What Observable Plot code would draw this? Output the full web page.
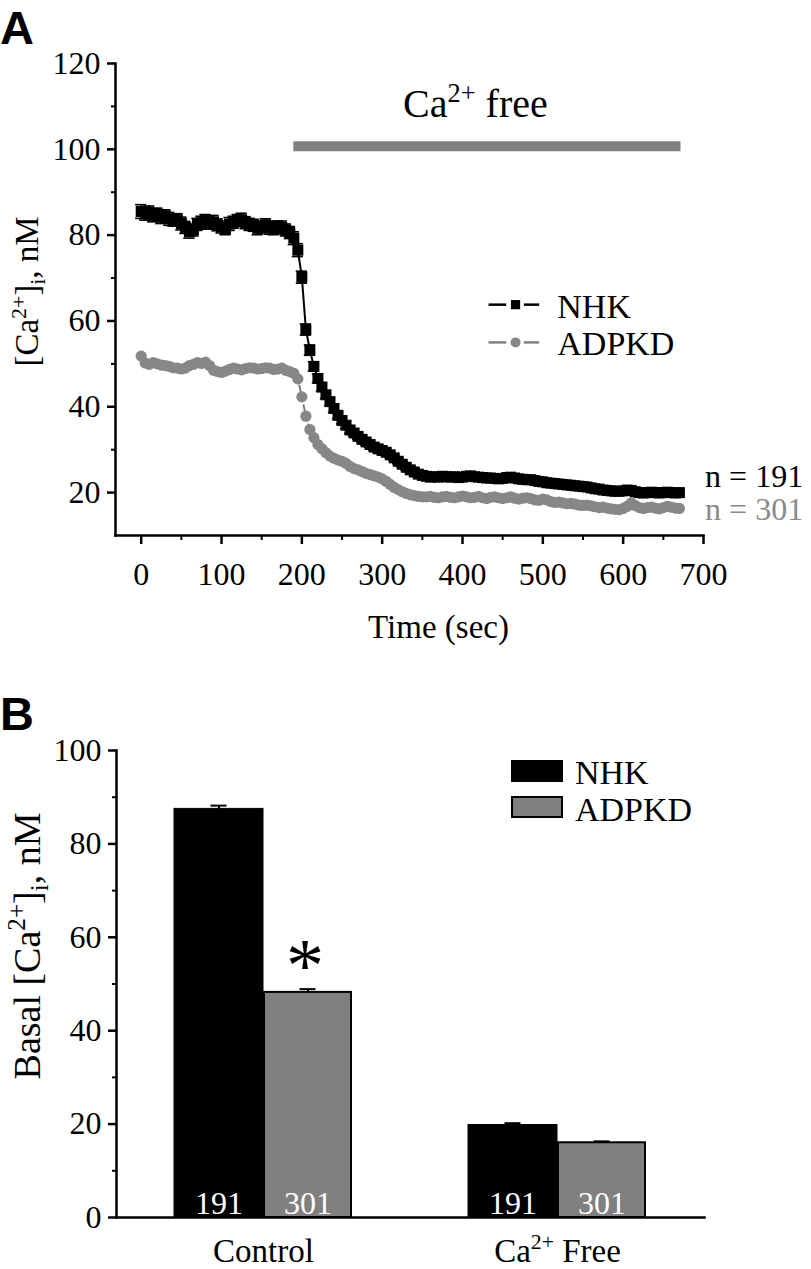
<!DOCTYPE html>
<html><head><meta charset="utf-8">
<script src="https://cdn.jsdelivr.net/npm/d3@7"></script>
<script src="https://cdn.jsdelivr.net/npm/@observablehq/plot@0.6"></script>
<style>
body{margin:0;background:#fff;}
#wrap{position:relative;width:811px;height:1269px;overflow:hidden;font-family:"Liberation Serif","Times New Roman",serif;}
.panel{position:relative;width:811px;}
.panel svg{display:block;}
.letter{position:absolute;left:0;font-family:"Liberation Sans",Arial,sans-serif;font-weight:bold;font-size:47px;line-height:normal;}
.sw{position:absolute;box-sizing:border-box;}
.lg{position:absolute;font-size:34px;line-height:34px;white-space:nowrap;}
</style></head><body>
<div id="wrap">
  <div id="pa" class="panel"><div class="letter" style="top:0px">A</div></div>
  <div id="pb" class="panel"><div class="letter" style="top:26px">B</div></div>
</div>
<script>
// ---------------- Panel A data ----------------
const timeStart = 0;      // sec
const timeStep = 5;       // sec between samples
const seriesNames = ["NHK", "ADPKD"];
const cellCounts = [191, 301];

const nhkValues = [
  85.5,85.0,85.3,84.6,84.9,84.2,84.5,83.8,83.5,83.6,
  82.7,81.8,80.8,81.2,82.5,82.9,83.4,82.8,83.1,82.4,
  81.9,81.5,82.6,83.0,83.4,83.6,82.9,82.5,82.3,81.6,
  81.9,82.4,81.7,81.5,81.9,81.8,81.2,80.6,79.3,
  76.5,70.2,58.0,53.2,49.4,46.6,44.6,42.8,41.2,39.6,
  38.0,36.8,35.7,34.6,33.9,33.1,32.4,31.8,31.2,30.6,
  30.2,29.8,29.4,28.8,28.1,27.3,26.6,25.9,25.3,24.8,
  24.3,24.0,23.8,23.6,23.7,23.6,23.8,23.7,23.6,23.7,
  23.5,23.6,23.8,23.9,23.7,23.6,23.5,23.4,23.4,23.3,
  23.2,23.3,23.5,23.6,23.4,23.2,23.1,23.0,23.0,22.8,
  22.6,22.5,22.3,22.2,22.1,22.0,21.9,21.8,21.7,21.6,
  21.5,21.4,21.3,21.1,20.9,20.8,20.6,20.5,20.4,20.3,
  20.3,20.4,20.6,20.5,20.2,20.0,19.9,20.0,20.1,20.0,
  19.9,20.0,20.1,20.0,19.9,20.0
];
const nhkSem = [
  1.6,1.5,1.5,1.5,1.4,1.5,1.4,1.5,1.4,1.4,
  1.5,1.4,1.5,1.4,1.4,1.5,1.4,1.4,1.5,1.4,
  1.4,1.4,1.5,1.4,1.4,1.5,1.4,1.4,1.4,1.5,
  1.4,1.4,1.5,1.4,1.4,1.5,1.4,1.4,1.5,
  1.5,1.4,1.3,1.2,1.1,1.0,1.0,0.9,0.9,0.9,
  0.8,0.8,0.8,0.8,0.7,0.7,0.7,0.7,0.7,0.7,
  0.7,0.7,0.6,0.6,0.6,0.6,0.6,0.6,0.6,0.6,
  0.6,0.6,0.6,0.6,0.6,0.6,0.6,0.6,0.6,0.6,
  0.6,0.6,0.6,0.6,0.6,0.6,0.6,0.6,0.6,0.6,
  0.6,0.6,0.6,0.6,0.6,0.6,0.6,0.6,0.6,0.6,
  0.6,0.6,0.6,0.6,0.6,0.6,0.6,0.6,0.6,0.6,
  0.6,0.6,0.6,0.6,0.6,0.6,0.6,0.6,0.6,0.6,
  0.6,0.6,0.6,0.6,0.6,0.6,0.6,0.6,0.6,0.6,
  0.6,0.6,0.6,0.6,0.6,0.6
];
const adpkdValues = [
  51.8,50.2,49.9,50.3,50.0,49.7,49.6,49.4,49.1,49.0,
  48.8,49.0,49.6,49.9,50.3,50.1,50.4,49.6,48.5,48.2,
  48.0,48.3,48.7,49.0,48.8,48.6,48.9,49.1,49.0,48.8,
  48.9,49.1,49.0,48.7,48.8,49.0,48.5,48.2,47.8,
  46.5,42.3,37.8,34.7,32.8,31.2,30.2,29.3,28.5,28.0,
  27.6,27.3,26.8,26.1,25.6,25.3,24.9,24.5,24.2,23.9,
  23.6,23.2,22.6,21.9,21.2,20.7,20.2,19.8,19.5,19.3,
  19.1,19.0,19.0,19.1,18.9,18.8,19.0,19.1,18.9,18.8,
  19.0,19.2,19.0,18.8,18.9,19.1,18.8,18.6,18.9,19.0,
  18.8,18.6,18.8,19.0,18.7,18.5,18.7,18.8,18.6,18.3,
  18.2,18.5,18.3,17.9,17.7,17.8,17.6,17.4,17.5,17.3,
  17.1,17.0,17.1,16.9,16.7,16.5,16.6,16.4,16.2,16.1,
  16.0,16.3,16.8,17.6,17.0,16.5,16.3,16.5,16.6,16.4,
  16.2,16.5,16.8,16.6,16.4,16.3
];
const xTicksA = [0,100,200,300,400,500,600,700];
const xMinorA = [50,150,250,350,450,550,650];
const yTicksA = [20,40,60,80,100,120];
const yMinorA = [30,50,70,90,110];
const caFreeStart = 190, caFreeEnd = 672, caFreeLevel = 100.7;
const caFreeLabel = "Ca^{2+} free";
const yLabelA = "[Ca^{2+}]_{i}, nM";
const xLabelA = "Time (sec)";

// ---------------- Panel B data ----------------
const groups = ["Control", "Ca^{2+} Free"];
const nhkBasal = [87.5, 19.8];
const nhkBasalSem = [0.7, 0.4];
const adpkdBasal = [48.2, 16.0];
const adpkdBasalSem = [0.7, 0.3];
const adpkdSignificant = [true, false];
const yTicksB = [0,20,40,60,80,100];
const yMinorB = [10,30,50,70,90];
const yLabelB = "Basal [Ca^{2+}]_{i}, nM";

// ---------------- styles ----------------
const serif = "'Liberation Serif','Times New Roman',serif";
const gray = "#808080";
const dotGray = "#878787";
const textGray = "#8a8a8a";

const times = nhkValues.map((_, i) => timeStart + i * timeStep);
const nhkData = times.map((t, i) => ({t, v: nhkValues[i], e: nhkSem[i]}));
const adpkdData = times.map((t, i) => ({t, v: adpkdValues[i]}));

// legend placement for panel A (in data space)
const legA = [
  {name: seriesNames[0], y: 63.8, color: "black", symbol: "square"},
  {name: seriesNames[1], y: 55.0, color: gray, symbol: "circle"}
];
const legLineL = [433, 455], legLineR = [477, 496], legMarkX = 466, legTextX = 518;

const plotA = Plot.plot({
  width: 811, height: 660,
  marginLeft: 115, marginRight: 108, marginTop: 63, marginBottom: 125,
  style: {fontFamily: serif, fontSize: "31px", background: "white", overflow: "visible", color: "black"},
  x: {domain: [-32, 700]},
  y: {domain: [10, 120]},
  marks: [
    Plot.ruleY([caFreeLevel], {x1: caFreeStart, x2: caFreeEnd, stroke: gray, strokeWidth: 10}),
    Plot.text([caFreeLabel], {x: (caFreeStart + caFreeEnd) / 2 - 15, y: 107.6, lineAnchor: "bottom", fontSize: 40, fontFamily: serif}),
    // ADPKD
    Plot.line(adpkdData, {x: "t", y: "v", stroke: gray, strokeWidth: 2, strokeDasharray: "6,4"}),
    Plot.dot(adpkdData, {x: "t", y: "v", r: 5.6, fill: dotGray}),
    // NHK
    Plot.line(nhkData, {x: "t", y: "v", stroke: "black", strokeWidth: 2}),
    Plot.ruleX(nhkData, {x: "t", y1: d => d.v - d.e, y2: d => d.v + d.e, stroke: "black", strokeWidth: 1.6}),
    Plot.ruleY(nhkData, {y: d => d.v + d.e, x1: d => d.t - 7, x2: d => d.t + 7, stroke: "black", strokeWidth: 1.6}),
    Plot.ruleY(nhkData, {y: d => d.v - d.e, x1: d => d.t - 7, x2: d => d.t + 7, stroke: "black", strokeWidth: 1.6}),
    Plot.dot(nhkData, {x: "t", y: "v", symbol: "square", r: 6.2, fill: "black"}),
    // legend A
    Plot.ruleY(legA, {y: "y", x1: legLineL[0], x2: legLineL[1], stroke: "color", strokeWidth: 2.5}),
    Plot.ruleY(legA, {y: "y", x1: legLineR[0], x2: legLineR[1], stroke: "color", strokeWidth: 2.5}),
    Plot.dot(legA.filter(d => d.symbol === "square"), {x: legMarkX, y: "y", symbol: "square", r: 5.2, fill: "black"}),
    Plot.dot(legA.filter(d => d.symbol === "circle"), {x: legMarkX, y: "y", r: 5, fill: dotGray}),
    Plot.text(legA, {x: legTextX, y: "y", text: "name", textAnchor: "start", dy: 2, fontSize: 34, fontFamily: serif}),
    // n labels
    Plot.text([`n = ${cellCounts[0]}`], {x: 702, y: 21.2, textAnchor: "start", lineAnchor: "bottom", fontSize: 32, fill: "black", fontFamily: serif}),
    Plot.text([`n = ${cellCounts[1]}`], {x: 702, y: 13.5, textAnchor: "start", lineAnchor: "bottom", fontSize: 32, fill: textGray, fontFamily: serif}),
    // axes
    Plot.frame({anchor: "left", strokeWidth: 2.5}),
    Plot.frame({anchor: "bottom", strokeWidth: 2.5}),
    Plot.axisY({ticks: yTicksA, tickSize: 8, tickPadding: 7, strokeWidth: 2.5, fontSize: 32, fontFamily: serif, label: null}),
    Plot.axisY({ticks: yMinorA, tickSize: 4, tickFormat: () => "", strokeWidth: 2, label: null}),
    Plot.axisX({ticks: xTicksA, tickSize: 9, tickPadding: 18, strokeWidth: 2.5, fontSize: 32, fontFamily: serif, label: null}),
    Plot.axisX({ticks: xMinorA, tickSize: 5, tickFormat: () => "", strokeWidth: 2, label: null}),
    Plot.text([xLabelA], {frameAnchor: "bottom", dx: 29, dy: 102, lineAnchor: "bottom", textAnchor: "middle", fontSize: 33, fontFamily: serif}),
    Plot.text([yLabelA], {frameAnchor: "left", rotate: -90, dx: -88, dy: -8, textAnchor: "middle", lineAnchor: "middle", fontSize: 33, fontFamily: serif})
  ]
});
document.getElementById("pa").appendChild(plotA);

// ---------------- Panel B ----------------
const barData = groups.flatMap((g, i) => [
  {group: g, series: seriesNames[0], value: nhkBasal[i], sem: nhkBasalSem[i], n: cellCounts[0], sig: false},
  {group: g, series: seriesNames[1], value: adpkdBasal[i], sem: adpkdBasalSem[i], n: cellCounts[1], sig: adpkdSignificant[i]}
]);
const nhkBars = barData.filter(d => d.series === seriesNames[0]);
const adBars = barData.filter(d => d.series === seriesNames[1]);
const off = 44.5;       // half a bar, px
const inset = 102.5;    // band inset so each bar is 89 px wide
const capInset = 139;   // error cap ~16 px

const plotB = Plot.plot({
  width: 811, height: 609,
  marginLeft: 116, marginRight: 107, marginTop: 90, marginBottom: 52,
  style: {fontFamily: serif, fontSize: "31px", background: "white", overflow: "visible", color: "black"},
  x: {domain: groups, padding: 0},
  y: {domain: [0, 100]},
  marks: [
    Plot.barY(nhkBars, {x: "group", y: "value", fill: "black", stroke: "black", strokeWidth: 1, dx: -off, insetLeft: inset, insetRight: inset}),
    Plot.barY(adBars, {x: "group", y: "value", fill: gray, stroke: "black", strokeWidth: 2, dx: off, insetLeft: inset + 1, insetRight: inset + 1}),
    Plot.ruleX(nhkBars, {x: "group", y1: "value", y2: d => d.value + d.sem, dx: -off, strokeWidth: 2}),
    Plot.ruleX(adBars, {x: "group", y1: "value", y2: d => d.value + d.sem, dx: off, strokeWidth: 2}),
    Plot.tickY(nhkBars, {x: "group", y: d => d.value + d.sem, dx: -off, insetLeft: capInset, insetRight: capInset, strokeWidth: 2}),
    Plot.tickY(adBars, {x: "group", y: d => d.value + d.sem, dx: off, insetLeft: capInset, insetRight: capInset, strokeWidth: 2}),
    Plot.text(nhkBars, {x: "group", y: 0, text: d => String(d.n), dx: -off, dy: -4, lineAnchor: "bottom", fill: "white", fontSize: 32, fontFamily: serif}),
    Plot.text(adBars, {x: "group", y: 0, text: d => String(d.n), dx: off, dy: -4, lineAnchor: "bottom", fill: "white", fontSize: 32, fontFamily: serif}),
    Plot.text(adBars.filter(d => d.sig), {x: "group", y: d => d.value + d.sem, text: () => "*", dx: off - 3, dy: 2, lineAnchor: "bottom", fontSize: 76, fontFamily: serif}),
    Plot.frame({anchor: "left", strokeWidth: 2.5}),
    Plot.frame({anchor: "bottom", strokeWidth: 2.5}),
    Plot.axisY({ticks: yTicksB, tickSize: 8, tickPadding: 7, strokeWidth: 2.5, fontSize: 32, fontFamily: serif, label: null}),
    Plot.axisY({ticks: yMinorB, tickSize: 4, tickFormat: () => "", strokeWidth: 2, label: null}),
    Plot.axisX({tickSize: 0, tickPadding: 21, fontSize: 33, fontFamily: serif, label: null}),
    Plot.text([yLabelB], {frameAnchor: "left", rotate: -90, dx: -89, dy: -38, textAnchor: "middle", lineAnchor: "middle", fontSize: 38, fontFamily: serif})
  ]
});
document.getElementById("pb").appendChild(plotB);

// legend B (HTML overlay)
const pb = document.getElementById("pb");
[
  {name: seriesNames[0], top: 100, fill: "black", border: "none", textTop: 96},
  {name: seriesNames[1], top: 136, fill: gray, border: "2px solid black", textTop: 133}
].forEach(d => {
  const s = document.createElement("div");
  s.className = "sw";
  Object.assign(s.style, {left: "511px", top: d.top + "px", width: "52px", height: "22px", background: d.fill, border: d.border});
  pb.appendChild(s);
  const t = document.createElement("div");
  t.className = "lg";
  Object.assign(t.style, {left: "575px", top: d.textTop + "px"});
  t.textContent = d.name;
  pb.appendChild(t);
});

// rich text: ^{...} superscript, _{...} subscript
function applyRich(root) {
  root.querySelectorAll("text").forEach(el => {
    const s = el.textContent;
    if (!/[\^_]\{/.test(s)) return;
    const fs = parseFloat(getComputedStyle(el).fontSize) || 31;
    while (el.firstChild) el.removeChild(el.firstChild);
    const re = /([\^_])\{([^}]*)\}/g;
    let last = 0, m, shift = 0;
    const add = (txt, kind) => {
      const t = document.createElementNS("http://www.w3.org/2000/svg", "tspan");
      t.textContent = txt;
      const target = kind === "sup" ? -0.38 * fs : kind === "sub" ? 0.22 * fs : 0;
      const dy = target - shift;
      if (dy) t.setAttribute("dy", dy);
      shift = target;
      if (kind) t.setAttribute("font-size", 0.66 * fs);
      el.appendChild(t);
    };
    while ((m = re.exec(s))) {
      if (m.index > last) add(s.slice(last, m.index), null);
      add(m[2], m[1] === "^" ? "sup" : "sub");
      last = re.lastIndex;
    }
    if (last < s.length) add(s.slice(last), null);
  });
}
applyRich(document.getElementById("wrap"));
</script>
</body></html>
